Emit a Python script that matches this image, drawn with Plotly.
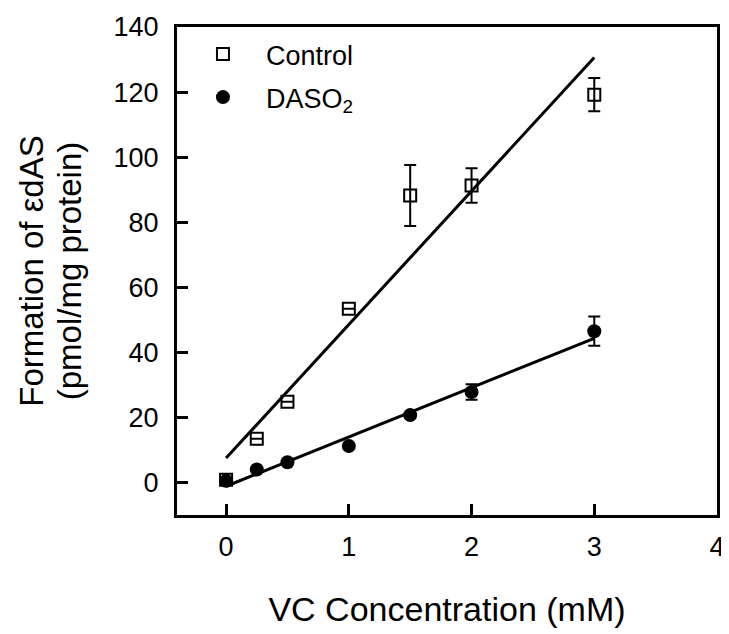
import numpy as np
import plotly.graph_objects as go

conc = [0, 0.25, 0.5, 1, 1.5, 2, 3]
control = [0.8, 13.4, 24.8, 53.4, 88.2, 91.3, 119.2]
control_err = [0, 0, 0, 0, 9.4, 5.3, 5.1]
daso2 = [0.5, 4.0, 6.2, 11.2, 20.7, 27.8, 46.5]
daso2_err = [0, 0, 0, 0, 0, 2.4, 4.5]
x_ticks = [0, 1, 2, 3, 4]
y_ticks = [0, 20, 40, 60, 80, 100, 120, 140]

FONT = "Liberation Sans, Arial, sans-serif"

fig = go.Figure()

# least-squares regression lines
for ys in (control, daso2):
    m, b = np.polyfit(conc, ys, 1)
    xs = [min(conc), max(conc)]
    fig.add_trace(go.Scatter(x=xs, y=[m * v + b for v in xs], mode="lines",
                             line=dict(color="black", width=3), showlegend=False,
                             hoverinfo="skip"))

fig.add_trace(go.Scatter(
    x=conc, y=control, mode="markers", name="Control", legendgroup="a",
    marker=dict(symbol="square-open", size=12, color="black", line=dict(width=2)),
    error_y=dict(type="data", array=control_err, color="black", thickness=2, width=6),
))
fig.add_trace(go.Scatter(
    x=conc, y=daso2, mode="markers", name="DASO<sub>2</sub>", legendgroup="b",
    marker=dict(symbol="circle", size=14, color="black"),
    error_y=dict(type="data", array=daso2_err, color="black", thickness=2, width=6),
))

axis_common = dict(showline=True, linecolor="black", linewidth=3, mirror=True,
                   ticks="inside", ticklen=11, tickwidth=2.5, tickcolor="black",
                   showgrid=False, zeroline=False, automargin=False,
                   tickfont=dict(family=FONT, size=27, color="black"))

fig.update_xaxes(range=[-0.4, 4], tickvals=x_ticks, ticklabelstandoff=6,
                 title=dict(text="VC Concentration (mM)", standoff=36,
                            font=dict(family=FONT, size=34, color="black")),
                 **axis_common)
fig.update_yaxes(range=[-10, 140], tickvals=y_ticks, ticklabelstandoff=10,
                 title=dict(text='<span style="font-size:33px">Formation of εdAS</span><br>'
                                 '<span style="font-size:33px">(pmol/mg protein)</span>',
                            standoff=24,
                            font=dict(family=FONT, size=29, color="black")),
                 **axis_common)

fig.update_layout(
    width=721, height=626,
    margin=dict(l=169, r=12, t=19, b=119),
    paper_bgcolor="white", plot_bgcolor="white",
    font=dict(family=FONT, color="black"),
    legend=dict(x=0.0055, y=0.994, xanchor="left", yanchor="top",
                font=dict(family=FONT, size=27, color="black"),
                bgcolor="rgba(0,0,0,0)", tracegroupgap=5, itemwidth=76),
)

fig.write_html("out.html")
